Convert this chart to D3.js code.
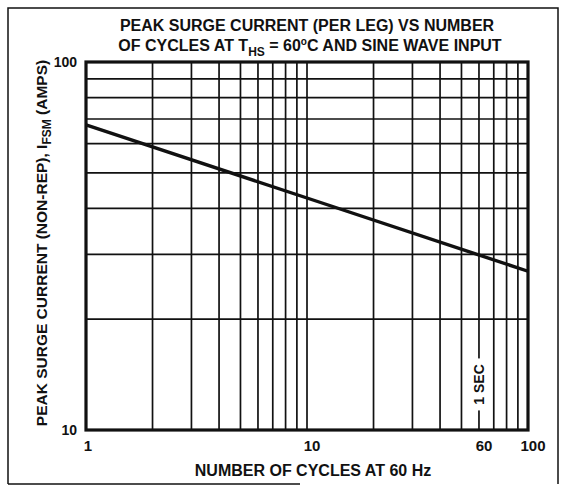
<!DOCTYPE html>
<html>
<head>
<meta charset="utf-8">
<script src="https://cdn.jsdelivr.net/npm/d3@7"></script>
<style>
  body { margin: 0; background: #fff; }
  text { font-family: "Liberation Sans", Arial, sans-serif; font-weight: bold; fill: #111; }
</style>
</head>
<body>
<svg id="chart"></svg>
<script>

// values
var cycles = [1, 10, 100];
var surgeAmps = [67.5, 42.7, 27];

var xGrid = [2, 3, 4, 5, 6, 7, 8, 9, 10, 20, 30, 40, 50, 60, 70, 80, 90];
var yGrid = [20, 30, 40, 50, 60, 70, 80, 90];

var xTickLabels = [1, 10, 60, 100];
var yTickLabels = [10, 100];

var dimensions = {
    width: 573,
    height: 495,
    margin: {
        top: 62,
        bottom: 65,
        left: 86,
        right: 45,
    },
};

var svg = d3.select("#chart")
            .attr("width", dimensions.width)
            .attr("height", dimensions.height)

var xScale = d3.scaleLog()
                .domain([1, 100])
                .range([dimensions.margin.left, dimensions.width - dimensions.margin.right])

var yScale = d3.scaleLog()
                .domain([10, 100])
                .range([dimensions.height - dimensions.margin.bottom, dimensions.margin.top])

// outer frame of the figure
svg.append("path")
    .attr("d", "M 8 484 L 8 8 L 558 8 L 558 484")
    .attr("fill", "none")
    .attr("stroke", "#111")
    .attr("stroke-width", 1.5)
svg.append("line")
    .attr("x1", 8).attr("x2", 300)
    .attr("y1", 484).attr("y2", 484)
    .attr("stroke", "#111")
    .attr("stroke-width", 1.5)

// grid
svg.selectAll(".vgrid")
    .data(xGrid)
    .enter()
    .append("line")
    .attr("x1", function(d) { return xScale(d) })
    .attr("x2", function(d) { return xScale(d) })
    .attr("y1", yScale(100))
    .attr("y2", yScale(10))
    .attr("stroke", "#111")
    .attr("stroke-width", 1.7)

svg.selectAll(".hgrid")
    .data(yGrid)
    .enter()
    .append("line")
    .attr("x1", xScale(1))
    .attr("x2", xScale(100))
    .attr("y1", function(d) { return yScale(d) })
    .attr("y2", function(d) { return yScale(d) })
    .attr("stroke", "#111")
    .attr("stroke-width", 1.7)

// "1 SEC" marker on the 60 cycle line
var secX = xScale(60)
var secY = yScale(13.3)
svg.append("rect")
    .attr("x", secX - 8)
    .attr("y", secY - 26)
    .attr("width", 16)
    .attr("height", 52)
    .attr("fill", "#fff")
svg.append("text")
    .attr("transform", `translate(${secX + 5},${secY}) rotate(-90)`)
    .attr("text-anchor", "middle")
    .style("font-size", "14px")
    .text("1 SEC")

// plot border
svg.append("rect")
    .attr("x", xScale(1))
    .attr("y", yScale(100))
    .attr("width", xScale(100) - xScale(1))
    .attr("height", yScale(10) - yScale(100))
    .attr("fill", "none")
    .attr("stroke", "#111")
    .attr("stroke-width", 3.2)

// surge curve
var line = d3.line()
    .x(function(d, i) { return xScale(cycles[i]) })
    .y(function(d) { return yScale(d) })

svg.append("path")
    .datum(surgeAmps)
    .attr("d", line)
    .attr("fill", "none")
    .attr("stroke", "#111")
    .attr("stroke-width", 3.4)

// tick labels
svg.selectAll(".xlab")
    .data(xTickLabels)
    .enter()
    .append("text")
    .attr("x", function(d) { return xScale(d) + (d == 1 ? 2 : 5) })
    .attr("y", yScale(10) + 21)
    .attr("text-anchor", "middle")
    .style("font-size", "15px")
    .text(function(d) { return d })

svg.selectAll(".ylab")
    .data(yTickLabels)
    .enter()
    .append("text")
    .attr("x", xScale(1) - 9)
    .attr("y", function(d) { return yScale(d) + 5 })
    .attr("text-anchor", "end")
    .style("font-size", "14px")
    .text(function(d) { return d })

// axis titles
svg.append("text")
    .attr("x", 313)
    .attr("y", 476)
    .attr("text-anchor", "middle")
    .style("font-size", "16px")
    .text("NUMBER OF CYCLES AT 60 Hz")

var yTitle = svg.append("text")
    .attr("transform", "translate(47,243) rotate(-90)")
    .attr("text-anchor", "middle")
    .style("font-size", "15.5px")
yTitle.append("tspan").text("PEAK SURGE CURRENT (NON-REP), I")
yTitle.append("tspan").attr("dy", 4).style("font-size", "12px").text("FSM")
yTitle.append("tspan").attr("dy", -4).text(" (AMPS)")

// chart title
svg.append("text")
    .attr("x", 307)
    .attr("y", 31)
    .attr("text-anchor", "middle")
    .style("font-size", "16px")
    .text("PEAK SURGE CURRENT (PER LEG) VS NUMBER")

var title2 = svg.append("text")
    .attr("x", 310)
    .attr("y", 51)
    .attr("text-anchor", "middle")
    .style("font-size", "16px")
title2.append("tspan").text("OF CYCLES AT T")
title2.append("tspan").attr("dy", 5).style("font-size", "12px").text("HS")
title2.append("tspan").attr("dy", -5).text(" = 60")
title2.append("tspan").attr("dy", -6).style("font-size", "10px").text("o")
title2.append("tspan").attr("dy", 6).text("C AND SINE WAVE INPUT")

</script>
</body>
</html>
